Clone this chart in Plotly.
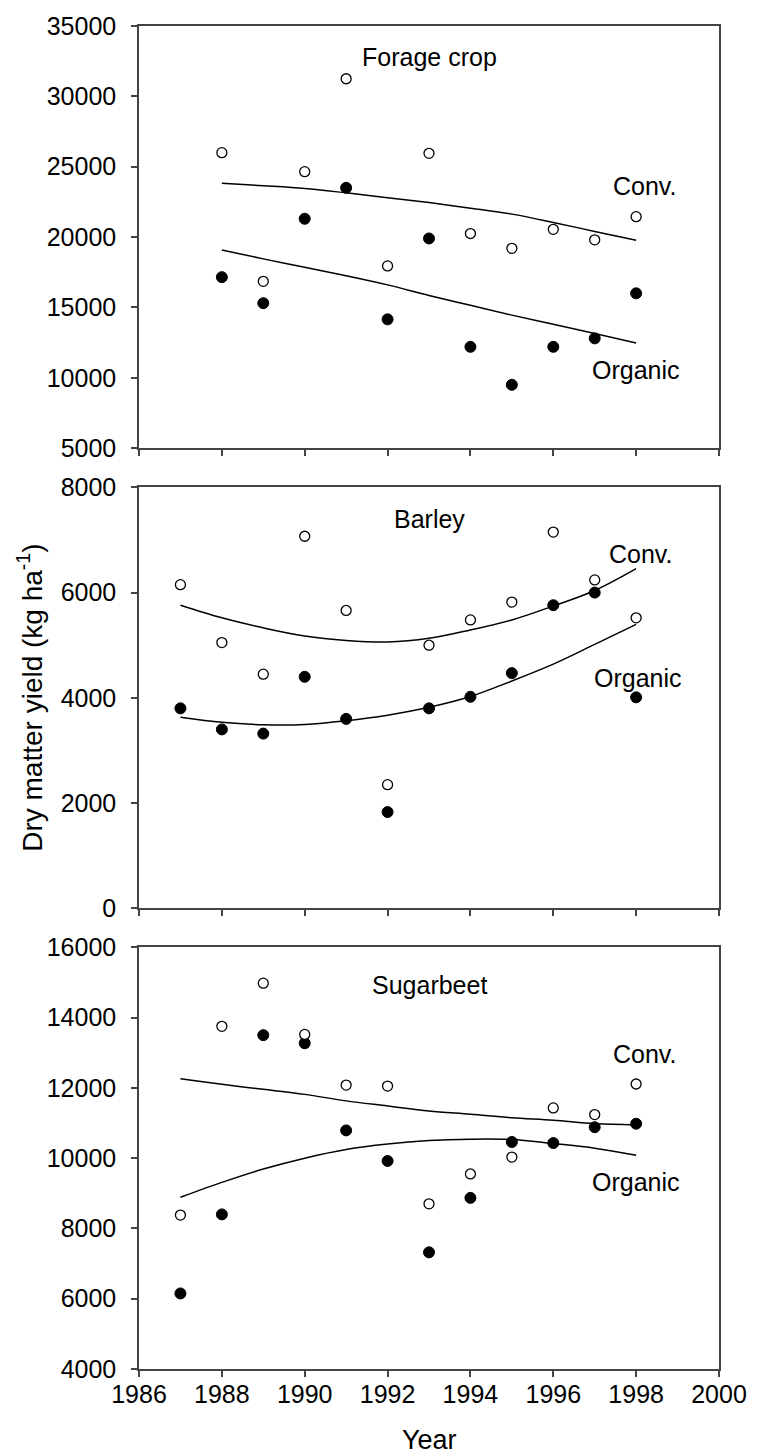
import plotly.graph_objects as go
from plotly.subplots import make_subplots

# ---------------- data ----------------
years_forage = [1988, 1989, 1990, 1991, 1992, 1993, 1994, 1995, 1996, 1997, 1998]
forage_conv = [26000, 16850, 24650, 31250, 17950, 25950, 20250, 19200, 20550, 19800, 21450]
forage_org = [17150, 15300, 21300, 23500, 14150, 19900, 12200, 9500, 12200, 12800, 16000]
forage_conv_fit = [23825, 23650, 23450, 23140, 22800, 22450, 22050, 21630, 21040, 20400, 19770]
forage_org_fit = [19080, 18450, 17850, 17250, 16600, 15850, 15150, 14450, 13800, 13150, 12470]

years = [1987, 1988, 1989, 1990, 1991, 1992, 1993, 1994, 1995, 1996, 1997, 1998]
barley_conv = [6150, 5050, 4450, 7070, 5660, 2350, 5000, 5480, 5820, 7150, 6240, 5520]
barley_org = [3800, 3400, 3320, 4400, 3600, 1830, 3800, 4020, 4470, 5760, 6000, 4010]
barley_conv_fit = [5760, 5520, 5330, 5175, 5090, 5060, 5130, 5290, 5480, 5745, 6040, 6455]
barley_org_fit = [3630, 3535, 3490, 3495, 3565, 3670, 3820, 4025, 4320, 4640, 5015, 5395]

sb_conv = [8380, 13750, 14980, 13520, 12080, 12050, 8700, 9550, 10030, 11430, 11240, 12110]
sb_org = [6150, 8400, 13500, 13270, 10790, 9920, 7320, 8870, 10460, 10430, 10880, 10980]
sb_conv_fit = [12260, 12100, 11960, 11815, 11630, 11485, 11340, 11250, 11150, 11080, 10985, 10945]
sb_org_fit = [8885, 9310, 9690, 10000, 10245, 10400, 10500, 10540, 10530, 10415, 10285, 10085]

x_ticks = [1986, 1988, 1990, 1992, 1994, 1996, 1998, 2000]

panels = [
    dict(x=years_forage, conv=forage_conv, org=forage_org, cfit=forage_conv_fit, ofit=forage_org_fit,
         yrange=[5000, 35000], dtick=5000, title="Forage crop",
         title_pos=(1993, 32825), conv_pos=(1998.2, 23630), org_pos=(1998.0, 10525)),
    dict(x=years, conv=barley_conv, org=barley_org, cfit=barley_conv_fit, ofit=barley_org_fit,
         yrange=[0, 8000], dtick=2000, title="Barley",
         title_pos=(1993, 7396), conv_pos=(1998.1, 6733), org_pos=(1998.05, 4386)),
    dict(x=years, conv=sb_conv, org=sb_org, cfit=sb_conv_fit, ofit=sb_org_fit,
         yrange=[4000, 16000], dtick=2000, title="Sugarbeet",
         title_pos=(1993, 14934), conv_pos=(1998.2, 12950), org_pos=(1998.0, 9310)),
]

FONT = "Liberation Sans, Arial, sans-serif"
FS = 25
AXC = "#444444"

fig = make_subplots(rows=3, cols=1, shared_xaxes=False, vertical_spacing=0.0)

domains = [[0.6857, 1.0], [0.3430, 0.6565], [0.0, 0.3140]]

for i, p in enumerate(panels):
    r = i + 1
    fig.add_trace(go.Scatter(x=p["x"], y=p["cfit"], mode="lines",
                             line=dict(color="black", width=1.5, shape="spline"),
                             showlegend=False, hoverinfo="skip"), row=r, col=1)
    fig.add_trace(go.Scatter(x=p["x"], y=p["ofit"], mode="lines",
                             line=dict(color="black", width=1.5, shape="spline"),
                             showlegend=False, hoverinfo="skip"), row=r, col=1)
    fig.add_trace(go.Scatter(x=p["x"], y=p["org"], mode="markers",
                             marker=dict(symbol="circle", size=11, color="black",
                                         line=dict(color="black", width=1)),
                             showlegend=False), row=r, col=1)
    fig.add_trace(go.Scatter(x=p["x"], y=p["conv"], mode="markers",
                             marker=dict(symbol="circle", size=10, color="white",
                                         line=dict(color="black", width=1.3)),
                             showlegend=False), row=r, col=1)

    xname = "x" if r == 1 else f"x{r}"
    yname = "y" if r == 1 else f"y{r}"
    for txt, pos in [(p["title"], p["title_pos"]), ("Conv.", p["conv_pos"]), ("Organic", p["org_pos"])]:
        fig.add_annotation(x=pos[0], y=pos[1], xref=xname, yref=yname, text=txt,
                           showarrow=False, font=dict(family=FONT, size=FS, color="black"),
                           xanchor="center", yanchor="middle")

    fig.update_yaxes(row=r, col=1, range=p["yrange"], dtick=p["dtick"], tick0=p["yrange"][0],
                     tickformat="d",
                     domain=domains[i], ticks="outside", ticklen=6, tickwidth=1.5, tickcolor=AXC,
                     showline=True, linecolor=AXC, linewidth=1.5, mirror=True,
                     showgrid=False, zeroline=False, ticklabelstandoff=10,
                     tickfont=dict(family=FONT, size=FS, color="black"))
    fig.update_xaxes(row=r, col=1, range=[1986, 2000], tickvals=x_ticks,
                     ticktext=[str(v) for v in x_ticks],
                     showticklabels=(r == 3), ticks="outside", ticklen=6, tickwidth=1.5,
                     tickcolor=AXC, showline=True, linecolor=AXC, linewidth=1.5, mirror=True,
                     showgrid=False, zeroline=False, ticklabelstandoff=-4,
                     tickfont=dict(family=FONT, size=FS, color="black"))

# axis titles as annotations
fig.add_annotation(x=-0.188, y=(domains[1][0] + domains[1][1]) / 2, xref="paper", yref="paper",
                   text="Dry matter yield (kg ha<sup>-1</sup>)", textangle=-90, showarrow=False,
                   font=dict(family=FONT, size=28, color="black"), xanchor="center", yanchor="middle")
fig.add_annotation(x=0.5, y=-0.0527, xref="paper", yref="paper", text="Year", showarrow=False,
                   font=dict(family=FONT, size=27, color="black"), xanchor="center", yanchor="middle")

fig.update_layout(width=759, height=1454, margin=dict(l=139, r=32, t=21, b=85),
                  paper_bgcolor="white", plot_bgcolor="white",
                  font=dict(family=FONT, size=FS, color="black"), showlegend=False)

fig.write_html("out.html", config={"displayModeBar": False},
               post_script="document.body.style.margin='0px';document.body.style.padding='0px';")
